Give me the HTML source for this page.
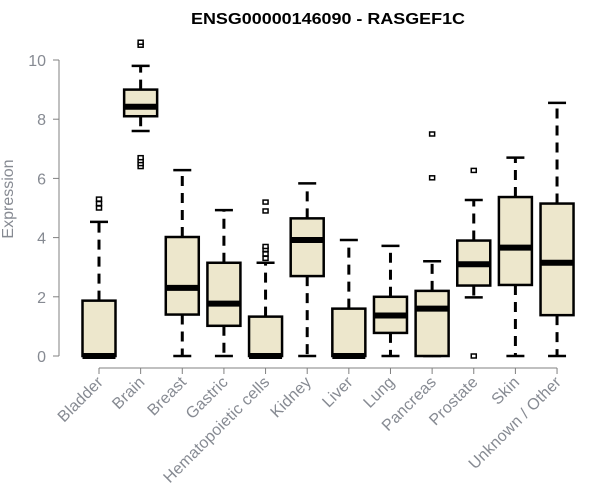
<!DOCTYPE html>
<html><head><meta charset="utf-8"><style>
html,body{margin:0;padding:0;background:#fff;}
svg{display:block;font-family:"Liberation Sans",Arial,sans-serif;}
</style></head><body>
<svg id="chart" width="600" height="500" viewBox="0 0 600 500" xmlns="http://www.w3.org/2000/svg">
<text x="328" y="24" text-anchor="middle" font-size="16" font-weight="bold" fill="#000" textLength="274" lengthAdjust="spacingAndGlyphs">ENSG00000146090 - RASGEF1C</text>
<text transform="translate(13,199) rotate(-90)" text-anchor="middle" font-size="16" fill="#868a92">Expression</text>
<g id="axes"></g>
<g id="boxes"></g>
</svg>
<script>
const categories = ["Bladder","Brain","Breast","Gastric","Hematopoietic cells","Kidney","Liver","Lung","Pancreas","Prostate","Skin","Unknown / Other"];
const lowWhisker = [0,7.6,0,0,0,0,0,0,0,1.98,0,0];
const q1 = [0,8.1,1.4,1.02,0,2.7,0,0.78,0,2.38,2.4,1.38];
const medians = [0,8.42,2.3,1.77,0,3.92,0,1.37,1.6,3.1,3.66,3.15];
const q3 = [1.87,9.0,4.02,3.15,1.33,4.65,1.6,2.0,2.2,3.9,5.37,5.15];
const highWhisker = [4.53,9.8,6.28,4.93,3.15,5.83,3.92,3.72,3.2,5.27,6.7,8.55];
const outliers = [[5.0,5.15,5.3],[6.4,6.5,6.6,6.7,10.5,10.6],[],[],[3.3,3.45,3.6,3.7,4.9,5.2],[],[],[],[6.02,7.5],[0,6.27],[],[]];
const yTicks = [0,2,4,6,8,10];

const NS="http://www.w3.org/2000/svg";
const axes=document.getElementById('axes');
const boxes=document.getElementById('boxes');
function y(v){return 356-v*29.6;}
function x(i){return 99+i*41.64;}
function mk(tag,attrs,parent){const e=document.createElementNS(NS,tag);for(const k in attrs)e.setAttribute(k,attrs[k]);parent.appendChild(e);return e;}

const ya=mk('line',{x1:59,x2:59,y1:y(yTicks[0]),y2:y(yTicks[yTicks.length-1]),stroke:'#808080'},axes);


yTicks.forEach(t=>{
  const l=mk('line',{x1:53,x2:59,y1:y(t),y2:y(t),stroke:'#808080'},axes);
  
  
  const tx=mk('text',{x:46,y:y(t)+6,'text-anchor':'end','font-size':16,fill:'#868a92'},axes);
  tx.textContent=t;
  
  
});
const xa=mk('line',{x1:x(0),x2:x(categories.length-1),y1:368,y2:368,stroke:'#808080'},axes);


categories.forEach((c,i)=>{
  const l=mk('line',{x1:x(i),x2:x(i),y1:368,y2:374,stroke:'#808080'},axes);
  
  
  const tx=mk('text',{transform:`translate(${x(i)+5},${383}) rotate(-45)`,'text-anchor':'end','font-size':16,'letter-spacing':0.2,fill:'#868a92'},axes);
  tx.textContent=c;
  
  
});
categories.forEach((c,i)=>{
  const g=mk('g',{},boxes);
  
  
  const cx=x(i),hw=16.5,cw=9;
  mk('line',{x1:cx,x2:cx,y1:y(q3[i]),y2:y(highWhisker[i]),stroke:'#000','stroke-width':3,'stroke-dasharray':'10,7'},g);
  mk('line',{x1:cx,x2:cx,y1:y(q1[i]),y2:y(lowWhisker[i]),stroke:'#000','stroke-width':3,'stroke-dasharray':'10,7'},g);
  mk('line',{x1:cx-cw,x2:cx+cw,y1:y(highWhisker[i]),y2:y(highWhisker[i]),stroke:'#000','stroke-width':2.5},g);
  mk('line',{x1:cx-cw,x2:cx+cw,y1:y(lowWhisker[i]),y2:y(lowWhisker[i]),stroke:'#000','stroke-width':2.5},g);
  mk('rect',{x:cx-hw,y:y(q3[i]),width:hw*2,height:Math.max(0,y(q1[i])-y(q3[i])),fill:'#ede7cc',stroke:'#000','stroke-width':2.5},g);
  mk('line',{x1:cx-hw,x2:cx+hw,y1:y(medians[i]),y2:y(medians[i]),stroke:'#000','stroke-width':6},g);
  outliers[i].forEach(o=>{
    const r=mk('rect',{x:cx-2.5,y:y(o)-2,width:5,height:4,fill:'#fff',stroke:'#000','stroke-width':1.5},g);
    
    
  });
});
</script>
</body></html>
